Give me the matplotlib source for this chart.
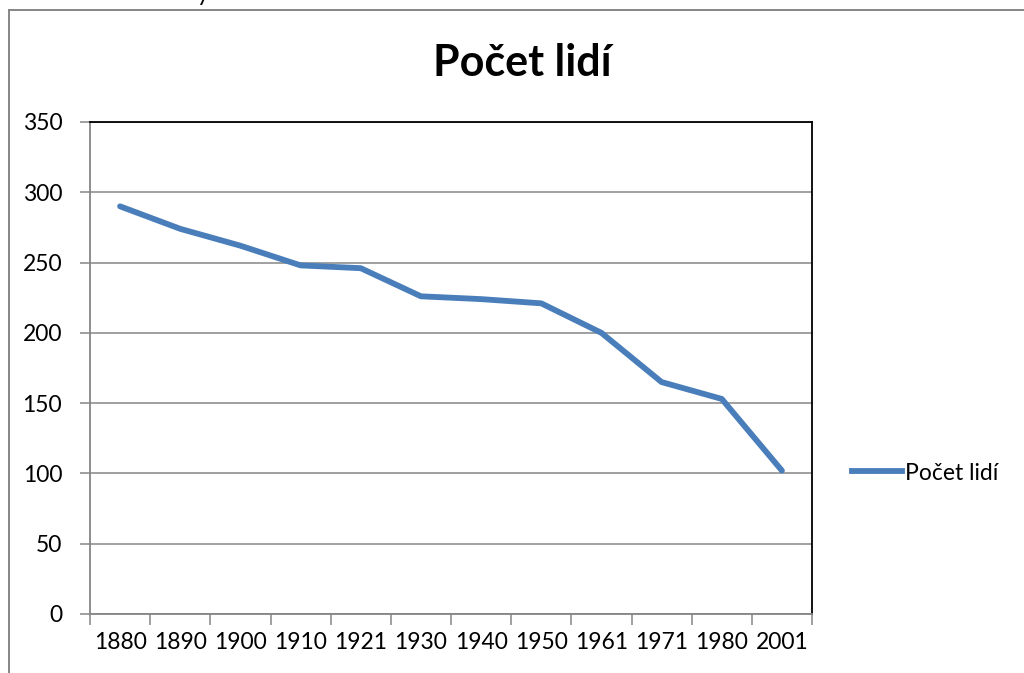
import matplotlib
matplotlib.use("Agg")
import matplotlib.pyplot as plt
from matplotlib.lines import Line2D

years = ["1880", "1890", "1900", "1910", "1921", "1930", "1940", "1950", "1961", "1971", "1980", "2001"]
people = [290, 274, 262, 248, 246, 226, 224, 221, 200, 165, 153, 102]
title = "Počet lidí"
series_name = "Počet lidí"
yticks = [0, 50, 100, 150, 200, 250, 300, 350]

plt.rcParams['font.family'] = ['Lato', 'DejaVu Sans']

W, H = 1024, 673
FS = 16.5
fig = plt.figure(figsize=(W / 100, H / 100), dpi=100)
fig.patch.set_facecolor("white")

# outer chart border (cropped screenshot)
fig.add_artist(Line2D([9 / W, 1.0], [1 - 10 / H, 1 - 10 / H], color="#868686", lw=1.4, transform=fig.transFigure))
fig.add_artist(Line2D([9 / W, 9 / W], [0, 1 - 10 / H], color="#868686", lw=1.4, transform=fig.transFigure))
# clipped glyph at the top of the screenshot
fig.text(203 / W, 1 - 1 / H, "y", fontsize=17, ha="center", va="baseline", color="black")

left, right, top, bottom = 90, 812, 122, 614
ax = fig.add_axes([left / W, 1 - bottom / H, (right - left) / W, (bottom - top) / H])

x = list(range(len(years)))
ax.plot(x, people, color="#4A7EBB", lw=4.2, solid_capstyle="round", solid_joinstyle="round", zorder=3)

ax.set_xlim(-0.5, len(years) - 0.5)
ax.set_ylim(0, 350)
ax.set_yticks(yticks)
ax.set_yticklabels([str(v) for v in yticks], fontsize=FS)
ax.yaxis.grid(True, color="#868686", lw=1.1)
ax.set_axisbelow(True)

ax.set_xticks([i - 0.5 for i in range(len(years) + 1)])
ax.set_xticklabels([])
ax.set_xticks(x, minor=True)
ax.set_xticklabels(years, minor=True, fontsize=FS)
ax.tick_params(axis="x", which="minor", length=0, pad=13)
ax.tick_params(axis="x", which="major", length=8, width=1.1, color="#868686", direction="out")
ax.tick_params(axis="y", length=7, width=1.1, color="#868686", direction="out", pad=13)

ax.spines["left"].set_color("#868686")
ax.spines["bottom"].set_color("#868686")
ax.spines["left"].set_linewidth(1.3)
ax.spines["bottom"].set_linewidth(1.3)
ax.spines["top"].set_color("black")
ax.spines["right"].set_color("black")
ax.spines["top"].set_linewidth(1.3)
ax.spines["right"].set_linewidth(1.3)

fig.text(522 / W, 1 - 63 / H, title, fontsize=31, fontweight="bold", ha="center", va="center")

leg = fig.legend([Line2D([], [], color="#4A7EBB", lw=4.2)], [series_name],
                 loc="center left", bbox_to_anchor=(852 / W, 1 - 473 / H),
                 frameon=False, fontsize=FS, handlelength=2.2, handletextpad=0.1,
                 borderaxespad=0, borderpad=0)

fig.savefig("out.png", dpi=100, facecolor="white")
